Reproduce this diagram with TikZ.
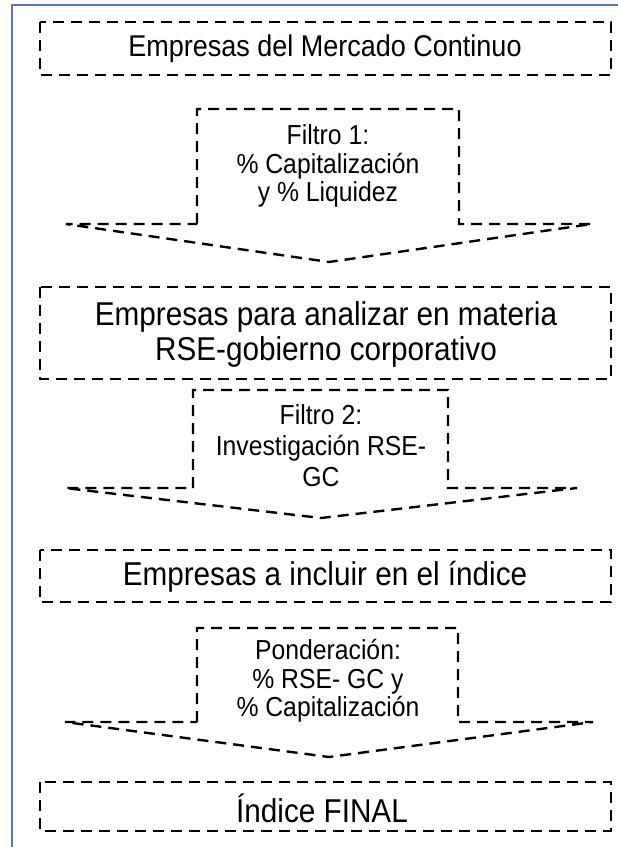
\documentclass[tikz,border=0pt]{standalone}
\usepackage{fontspec}
\setmainfont[FakeStretch=0.9]{Liberation Sans}
\definecolor{frameblue}{RGB}{96,116,186}

\begin{document}
\begin{tikzpicture}[x=1pt,y=-1pt,
  box/.style={draw,dash pattern=on 11pt off 7pt,line width=2.4pt},
  big/.style={font=\fontsize{33}{35}\selectfont,align=center},
  small/.style={font=\fontsize{27.5}{28.5}\selectfont,align=center}]
\useasboundingbox (0,0) rectangle (618,847);
\fill[white] (0,0) rectangle (618,847);
\draw[frameblue,line width=2pt] (12,860) -- (12,5) -- (630,5);

% stages
\draw[box] (40,22) rectangle (611,75);
\node[big,font=\fontsize{30}{33}\selectfont] (emp1) at (325,49) {Empresas del Mercado Continuo};
\draw[box] (40,287) rectangle (611,379);
\node[big] (emp2) at (326,334) {Empresas para analizar en materia\\RSE-gobierno corporativo};
\draw[box] (40,550) rectangle (611,602);
\node[big] (emp3) at (325,577) {Empresas a incluir en el índice};
\draw[box] (40,782) rectangle (611,831);
\node[big] (fin) at (322,808) {Índice FINAL};

% filters
\draw[box] (197,224) -- (197,109) -- (459,109) -- (459,224) -- (592,224) -- (329,262) -- (66,224) -- cycle;
\node[small] (f1) at (328,166) {Filtro 1:\\\% Capitalización\\y \% Liquidez};
\draw[box] (193,488) -- (193,390) -- (448,390) -- (448,488) -- (577,488) -- (321,518) -- (65,488) -- cycle;
\node[small,font=\fontsize{27.5}{31}\selectfont] (f2) at (321,446) {Filtro 2:\\Investigación RSE-\\GC};
\draw[box] (197,722) -- (197,628) -- (458,628) -- (458,722) -- (593,722) -- (329,757) -- (65,722) -- cycle;
\node[small] (pond) at (328,681) {Ponderación:\\\% RSE- GC y\\\% Capitalización};
\end{tikzpicture}
\end{document}
